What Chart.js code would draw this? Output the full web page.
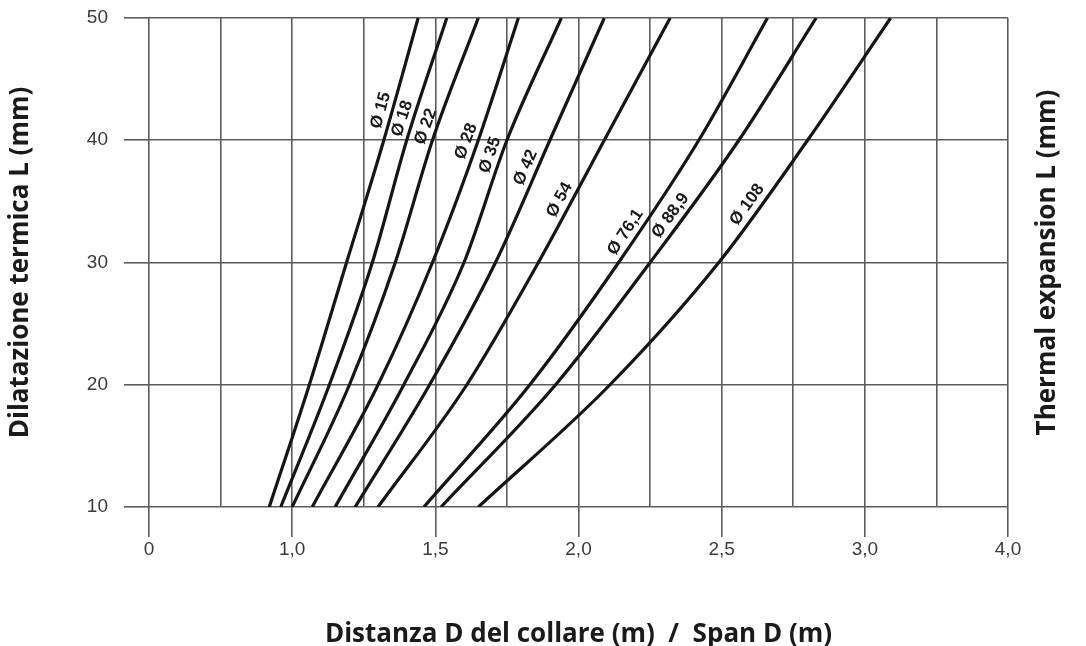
<!DOCTYPE html>
<html>
<head>
<meta charset="utf-8">
<script src="https://cdn.jsdelivr.net/npm/chart.js@4.4.1/dist/chart.umd.min.js"></script>
<style>
  html, body { margin: 0; padding: 0; background: #fff; }
  #wrap { width: 1086px; height: 646px; }
</style>
</head>
<body>
<div id="wrap"><canvas id="chart" width="1086" height="646"></canvas></div>
<script>
// thermal expansion L (mm) -> span D (m), one row per pipe diameter
const lValues = [10, 20, 30, 40, 50];
const pipeNames = ['Ø 15', 'Ø 18', 'Ø 22', 'Ø 28', 'Ø 35', 'Ø 42', 'Ø 54', 'Ø 76,1', 'Ø 88,9', 'Ø 108'];
const d15  = [0.92, 1.06, 1.19, 1.32, 1.44];
const d18  = [0.96, 1.13, 1.28, 1.40, 1.54];
const d22  = [1.00, 1.20, 1.36, 1.49, 1.65];
const d28  = [1.07, 1.30, 1.49, 1.65, 1.79];
const d35  = [1.15, 1.39, 1.60, 1.75, 1.94];
const d42  = [1.22, 1.48, 1.71, 1.90, 2.09];
const d54  = [1.30, 1.61, 1.86, 2.09, 2.32];
const d76  = [1.46, 1.83, 2.14, 2.42, 2.66];
const d89  = [1.52, 1.92, 2.25, 2.56, 2.83];
const d108 = [1.65, 2.11, 2.49, 2.80, 3.09];
const spans = [d15, d18, d22, d28, d35, d42, d54, d76, d89, d108];

// L value along each curve where its name is written
const labelAt = [42.2, 41.5, 40.8, 39.6, 38.5, 37.4, 34.7, 32.0, 33.3, 34.2];

const xTickValues = [0.5, 1.0, 1.5, 2.0, 2.5, 3.0, 3.5];
const xTickLabels = ['0', '1,0', '1,5', '2,0', '2,5', '3,0', '4,0'];

const yTitle = 'Dilatazione termica L (mm)';
const yTitleRight = 'Thermal expansion L (mm)';

const gridColor = '#5c5c5c';
const curveColor = '#151515';

function labelIndex(v) {
  return xTickValues.findIndex((t) => Math.abs(t - v) < 1e-6);
}

const datasets = spans.map((row, i) => ({
  label: pipeNames[i],
  data: row.map((d, k) => ({ x: d, y: lValues[k] })),
  borderColor: curveColor,
  borderWidth: 3.2,
  pointRadius: 0,
  fill: false,
  cubicInterpolationMode: 'monotone',
}));

const curveLabels = {
  id: 'curveLabels',
  afterDatasetsDraw(chart) {
    const ctx = chart.ctx;
    const ys = chart.scales.y;
    ctx.save();
    ctx.font = 'bold 17px "Liberation Sans", Arial, sans-serif';
    ctx.fillStyle = '#1a1a1a';
    ctx.textAlign = 'center';
    ctx.textBaseline = 'middle';
    chart.data.datasets.forEach((ds, i) => {
      const pts = chart.getDatasetMeta(i).data;
      const py = ys.getPixelForValue(labelAt[i]);
      for (let k = 0; k < pts.length - 1; k++) {
        const a = pts[k], b = pts[k + 1];
        if (py <= a.y && py >= b.y) {
          const t = (a.y - py) / (a.y - b.y);
          const px = a.x + t * (b.x - a.x);
          const ang = Math.atan2(a.y - b.y, b.x - a.x);
          const off = 11;
          ctx.save();
          ctx.translate(px - Math.sin(ang) * off, py - Math.cos(ang) * off);
          ctx.rotate(-ang);
          ctx.fillText(ds.label, 0, 0);
          ctx.restore();
          break;
        }
      }
    });
    ctx.restore();
  }
};

const rightTitle = {
  id: 'rightTitle',
  afterDraw(chart) {
    const { ctx, chartArea } = chart;
    ctx.save();
    ctx.font = 'bold 26px "Open Sans", sans-serif';
    ctx.fillStyle = '#1a1a1a';
    ctx.textAlign = 'center';
    ctx.textBaseline = 'middle';
    ctx.translate((chartArea.right + chart.width) / 2 + 1, (chartArea.top + chartArea.bottom) / 2);
    ctx.rotate(-Math.PI / 2);
    ctx.fillText(yTitleRight, 0, 0);
    ctx.restore();
  }
};

new Chart(document.getElementById('chart'), {
  type: 'line',
  data: { datasets },
  plugins: [curveLabels, rightTitle],
  options: {
    responsive: false,
    animation: false,
    devicePixelRatio: 1,
    layout: { padding: { top: 18, right: 78, left: 0, bottom: 0 } },
    plugins: { legend: { display: false }, tooltip: { enabled: false } },
    scales: {
      x: {
        type: 'linear',
        min: 0.5,
        max: 3.5,
        afterFit: (s) => { s.height = 139; s.paddingLeft = 0; s.paddingRight = 0; },
        ticks: {
          stepSize: 0.25,
          autoSkip: false,
          maxRotation: 0,
          padding: 1,
          color: '#3a3a3a',
          font: { family: '"Liberation Sans", Arial, sans-serif', size: 19 },
          callback: (v) => { const i = labelIndex(v); return i < 0 ? '' : xTickLabels[i]; }
        },
        grid: {
          color: gridColor,
          lineWidth: 1.6,
          tickLength: 30,
          tickColor: (c) => (c.tick && labelIndex(c.tick.value) >= 0 ? gridColor : 'rgba(0,0,0,0)')
        },
        border: { display: false },
        title: {
          display: true,
          text: 'Distanza D del collare (m)  /  Span D (m)',
          color: '#1a1a1a',
          font: { family: '"Open Sans", sans-serif', size: 26, weight: 'bold' },
          padding: { top: 0, bottom: -4 }
        }
      },
      y: {
        type: 'linear',
        min: 10,
        max: 50,
        afterFit: (s) => { s.width = 149; s.paddingTop = 0; s.paddingBottom = 0; },
        ticks: {
          stepSize: 10,
          padding: 16,
          color: '#3a3a3a',
          font: { family: '"Liberation Sans", Arial, sans-serif', size: 19 }
        },
        grid: { color: gridColor, lineWidth: 1.6, tickLength: 25 },
        border: { display: false },
        title: {
          display: true,
          text: yTitle,
          color: '#1a1a1a',
          font: { family: '"Open Sans", sans-serif', size: 26, weight: 'bold' },
          padding: { top: 5, bottom: 0 }
        }
      }
    }
  }
});
</script>
</body>
</html>
